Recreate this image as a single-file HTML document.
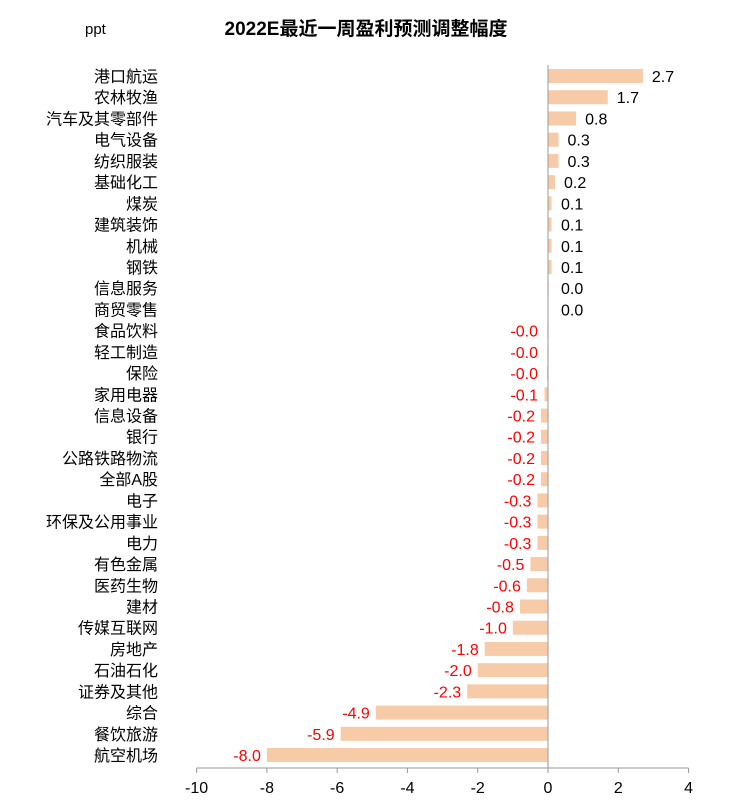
<!DOCTYPE html>
<html><head><meta charset="utf-8"><style>
body{margin:0;background:#fff;}
svg{display:block;font-family:"Liberation Sans","Noto Sans CJK SC",sans-serif;}
</style></head><body>
<svg id="chart" width="736" height="811">
<text x="85" y="34" font-size="15" fill="#000">ppt</text>
<text x="366" y="35" font-size="19" font-weight="bold" text-anchor="middle" fill="#000">2022E最近一周盈利预测调整幅度</text>
<g id="plot"></g>
</svg>
<script>
const categories=["港口航运","农林牧渔","汽车及其零部件","电气设备","纺织服装","基础化工","煤炭","建筑装饰","机械","钢铁","信息服务","商贸零售","食品饮料","轻工制造","保险","家用电器","信息设备","银行","公路铁路物流","全部A股","电子","环保及公用事业","电力","有色金属","医药生物","建材","传媒互联网","房地产","石油石化","证券及其他","综合","餐饮旅游","航空机场"];
const values=[2.7,1.7,0.8,0.3,0.3,0.2,0.1,0.1,0.1,0.1,0.02,0.01,-0.02,-0.02,-0.03,-0.1,-0.2,-0.2,-0.2,-0.2,-0.3,-0.3,-0.3,-0.5,-0.6,-0.8,-1.0,-1.8,-2.0,-2.3,-4.9,-5.9,-8.0];
const ticks=[-10,-8,-6,-4,-2,0,2,4];
const NS="http://www.w3.org/2000/svg";
const g=document.getElementById('plot');
const x=v=>548+v*35.14;
const y=i=>76+i*21.22;
function mk(t,a){const e=document.createElementNS(NS,t);for(const k in a)e.setAttribute(k,a[k]);g.appendChild(e);return e;}
categories.forEach((c,i)=>{
 const v=values[i];
 const r=mk('rect',{x:Math.min(x(0),x(v)),y:y(i)-7,width:Math.abs(x(v)-x(0)),height:14,fill:'#f8cba8'});
 
 
 const l=mk('text',{x:158,y:y(i)+6,'font-size':16,'text-anchor':'end',fill:'#000'});
 l.textContent=c;
 
 
 const s=(v<0?'-':'')+Math.abs(v).toFixed(1);
 let vx,anc,col;
 if(v<0){vx=Math.min(x(v),x(0)-4)-6;anc='end';col='#ff0000';}else{vx=Math.max(x(v),x(0)+4)+9;anc='start';col='#000';}
 const t=mk('text',{x:vx,y:y(i)+6,'font-size':16,'text-anchor':anc,fill:col});
 t.textContent=s;
 
 
});
const va=mk('line',{x1:x(0),x2:x(0),y1:65,y2:768,stroke:'#999','stroke-width':1});


const xa=mk('line',{x1:x(-10),x2:x(4),y1:768,y2:768,stroke:'#999','stroke-width':1});


ticks.forEach(tv=>{
 const tk=mk('line',{x1:x(tv),x2:x(tv),y1:768,y2:773,stroke:'#999'});
 
 
 const tl=mk('text',{x:x(tv),y:793,'font-size':16,'text-anchor':'middle',fill:'#000'});
 tl.textContent=tv;
 
 
});
</script>
</body></html>
